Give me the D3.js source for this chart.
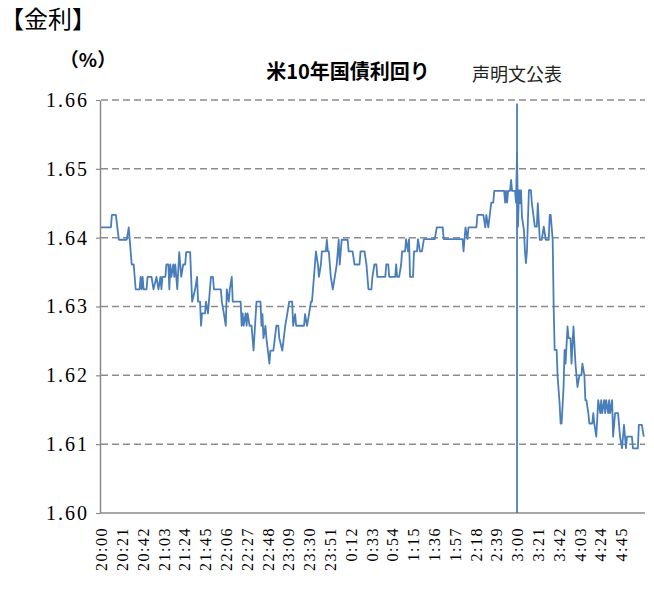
<!DOCTYPE html>
<html>
<head>
<meta charset="utf-8">
<script src="https://cdn.jsdelivr.net/npm/d3@7"></script>
<style>
  body { margin: 0; background: #fff; }
  svg { display: block; }
</style>
</head>
<body>
<div id="chart"></div>
<script>
// minutes after 20:00 (one reading per change of level)
const minutes = [0, 10, 11, 15, 18, 26, 28, 31, 33, 35, 39, 40, 41, 42, 43, 46, 47, 51, 53, 56, 58, 60, 61, 62, 65, 66, 68, 69, 70, 71, 73, 74, 75, 77, 79, 81, 83, 85, 86, 90,
  92, 95, 97, 98, 100, 101, 102, 105, 106, 108, 111, 113, 114, 121, 122, 124, 126, 127, 129, 130, 132, 133, 136, 141, 142, 143, 144, 146, 147, 148,
  150, 152, 154, 157, 161, 162, 163, 164, 166, 167, 170, 171, 174, 177, 179, 180, 183, 186, 188, 190, 193, 194, 196, 197, 205, 206, 208, 210, 212, 213,
  215, 217, 219, 220, 222, 223, 227, 228, 229, 230, 232, 234, 236, 238, 240, 241, 243, 249, 250, 254, 256, 261, 262, 266, 268, 270, 273, 274, 276, 278,
  279, 287, 288, 290, 291, 297, 298, 299, 301, 303, 304, 307, 308, 310, 311, 312, 315, 316, 319, 320, 322, 324, 326, 337, 339, 345, 346, 365, 366, 367,
  368, 370, 371, 379, 380, 386, 388, 389, 391, 394, 396, 397, 407, 408, 409, 410, 411, 413, 414, 415, 418, 419, 420, 421, 422, 423, 424, 425, 427, 428,
  429, 430, 432, 434, 435, 438, 440, 441, 443, 445, 447, 449, 452, 453, 454, 456, 457, 458, 460, 461, 463, 464, 465, 467, 468, 469, 471, 472, 474, 475,
  477, 479, 481, 483, 485, 486, 488, 489, 490, 492, 493, 496, 497, 498, 500, 502, 504, 505, 506, 508, 509, 510, 512, 513, 514, 516, 517, 519, 522, 524,
  526, 528, 530, 531, 536, 537, 542, 543, 546, 548]

// US 10y yield (%)
const yields = [1.6415, 1.6415, 1.6433, 1.6433, 1.6397, 1.6397, 1.6415, 1.6361, 1.6361, 1.6325, 1.6325, 1.6343, 1.6325, 1.6343, 1.6325, 1.6325, 1.6343, 1.6343, 1.6325, 1.6343, 1.6325, 1.6343, 1.6325, 1.6343, 1.6343, 1.6361, 1.6361, 1.6325, 1.6361, 1.6343, 1.6361, 1.6343, 1.6361, 1.6325, 1.6379, 1.6343, 1.6361, 1.6361, 1.6379, 1.6379,
  1.6307, 1.6325, 1.6343, 1.6307, 1.6307, 1.6272, 1.629, 1.629, 1.6307, 1.629, 1.6343, 1.6343, 1.6325, 1.6325, 1.6307, 1.629, 1.6272, 1.6325, 1.6307, 1.6325, 1.6343, 1.6307, 1.6307, 1.6307, 1.6272, 1.629, 1.6272, 1.629, 1.6272, 1.629,
  1.6272, 1.6272, 1.6236, 1.6307, 1.6307, 1.6272, 1.6289, 1.6254, 1.6272, 1.6254, 1.6217, 1.6236, 1.6236, 1.6272, 1.6272, 1.6254, 1.6236, 1.6272, 1.6289, 1.6307, 1.6307, 1.6272, 1.6289, 1.6272, 1.6272, 1.6289, 1.6272, 1.6289, 1.6307, 1.6307,
  1.6343, 1.638, 1.6361, 1.6343, 1.6361, 1.638, 1.638, 1.6397, 1.638, 1.638, 1.6343, 1.6325, 1.6343, 1.6361, 1.6397, 1.6361, 1.6397, 1.6397, 1.638, 1.638, 1.6361, 1.6361, 1.638, 1.638, 1.6361, 1.6325, 1.6325, 1.6343, 1.6361, 1.6361,
  1.6343, 1.6343, 1.6361, 1.6361, 1.6343, 1.6343, 1.6361, 1.6343, 1.6343, 1.6361, 1.638, 1.638, 1.6398, 1.638, 1.6398, 1.6343, 1.6343, 1.638, 1.638, 1.6398, 1.638, 1.638, 1.6398, 1.6398, 1.6415, 1.6415, 1.6398, 1.6398, 1.638, 1.6398,
  1.6415, 1.6398, 1.6415, 1.6415, 1.6433, 1.6433, 1.6415, 1.6433, 1.6415, 1.6451, 1.6451, 1.6468, 1.6468, 1.6451, 1.6468, 1.6451, 1.6468, 1.6468, 1.6484, 1.6468, 1.6468, 1.6451, 1.6523, 1.6416, 1.6469, 1.645, 1.6469, 1.643, 1.6411, 1.638,
  1.6363, 1.638, 1.6469, 1.6469, 1.645, 1.6416, 1.6416, 1.645, 1.6397, 1.6397, 1.6416, 1.6397, 1.6397, 1.6433, 1.6433, 1.6397, 1.63, 1.6237, 1.6237, 1.6198, 1.6159, 1.613, 1.613, 1.6183, 1.6237, 1.6217, 1.6271, 1.6254, 1.6254, 1.6217,
  1.6271, 1.6217, 1.6183, 1.62, 1.62, 1.6217, 1.62, 1.6164, 1.6164, 1.6145, 1.613, 1.613, 1.6145, 1.613, 1.6111, 1.6164, 1.6145, 1.6164, 1.6145, 1.6164, 1.6145, 1.6164, 1.6145, 1.6164, 1.6145, 1.6164, 1.6111, 1.6145, 1.6145, 1.6111,
  1.6094, 1.6128, 1.6094, 1.6111, 1.6111, 1.6094, 1.6094, 1.6128, 1.6128, 1.6111]

const xLabels = ['20:00', '20:21', '20:42', '21:03', '21:24', '21:45', '22:06', '22:27', '22:48', '23:09', '23:30', '23:51', '0:12',
  '0:33', '0:54', '1:15', '1:36', '1:57', '2:18', '2:39', '3:00', '3:21', '3:42', '4:03', '4:24', '4:45']
const labelStep = 21
const yTicks = [1.60, 1.61, 1.62, 1.63, 1.64, 1.65, 1.66]
const statementMinute = 420 // 3:00

const width = 654
const height = 594
const serif = "'Liberation Serif', 'Times New Roman', 'DejaVu Serif', serif"
const gothic = "'Noto Sans CJK JP', 'Noto Sans', sans-serif"

const svg = d3.select('#chart').append('svg')
  .attr('width', width)
  .attr('height', height)

const xScale = d3.scaleLinear().domain([0, 549]).range([101, 644.8])
const yScale = d3.scaleLinear().domain([1.60, 1.66]).range([513, 100])

// gridlines
svg.append('g').selectAll('line')
  .data(yTicks.filter(d => d > 1.60))
  .enter().append('line')
  .attr('x1', 101)
  .attr('x2', 645)
  .attr('y1', d => yScale(d))
  .attr('y2', d => yScale(d))
  .attr('stroke', '#8c8c8c')
  .attr('stroke-width', 1.5)
  .attr('stroke-dasharray', '7,4')

// y axis
const yAxis = svg.append('g')
  .attr('class', 'y axis')
  .attr('transform', 'translate(100,0)')
  .call(d3.axisLeft(yScale).tickValues(yTicks).tickFormat(d3.format('.2f')).tickSize(4).tickSizeOuter(0).tickPadding(7))
yAxis.attr('font-family', null).attr('font-size', null)
yAxis.select('.domain').attr('stroke', '#8a8a8a').attr('stroke-width', 1.5)
yAxis.selectAll('.tick line').attr('stroke', '#8a8a8a').attr('stroke-width', 1.2)
yAxis.selectAll('.tick text')
  .style('font-family', serif)
  .style('font-size', '20px')
  .style('letter-spacing', '2px')
  .style('fill', '#000')

// x axis
const xAxis = svg.append('g')
  .attr('class', 'x axis')
  .attr('transform', 'translate(0,513)')
  .call(d3.axisBottom(xScale)
    .tickValues(xLabels.map((d, i) => i * labelStep))
    .tickFormat((d, i) => xLabels[i])
    .tickSize(0).tickSizeOuter(0))
xAxis.attr('font-family', null).attr('font-size', null)
xAxis.select('.domain').remove()
xAxis.append('line')
  .attr('x1', 100).attr('x2', 645)
  .attr('stroke', '#8a8a8a').attr('stroke-width', 1.5)
xAxis.selectAll('.tick text')
  .attr('transform', 'rotate(-90)')
  .attr('text-anchor', 'end')
  .attr('x', -14)
  .attr('y', 0)
  .attr('dy', '0.35em')
  .style('font-family', serif)
  .style('font-size', '16px')
  .style('letter-spacing', '1.5px')
  .style('fill', '#000')

// statement marker
svg.append('line')
  .attr('x1', xScale(statementMinute))
  .attr('x2', xScale(statementMinute))
  .attr('y1', yScale(1.6595))
  .attr('y2', yScale(1.60))
  .attr('stroke', '#4a7ebb')
  .attr('stroke-width', 1.8)

// yield line
const series = minutes.map((m, i) => [m, yields[i]])
svg.append('path')
  .datum(series)
  .attr('fill', 'none')
  .attr('stroke', '#4a7ebb')
  .attr('stroke-width', 1.8)
  .attr('stroke-linejoin', 'round')
  .attr('d', d3.line().x(d => xScale(d[0])).y(d => yScale(d[1])))

// texts
svg.append('text')
  .attr('x', 0).attr('y', 28)
  .style('font-family', gothic)
  .style('font-size', '24px')
  .text('【金利】')

svg.append('text')
  .attr('x', 88).attr('y', 67)
  .attr('text-anchor', 'middle')
  .style('font-family', gothic)
  .style('font-size', '19px')
  .style('font-weight', 'bold')
  .text('（%）')

svg.append('text')
  .attr('x', 348).attr('y', 79)
  .attr('text-anchor', 'middle')
  .style('font-family', gothic)
  .style('font-size', '20px')
  .style('font-weight', 'bold')
  .text('米10年国債利回り')

svg.append('text')
  .attr('x', xScale(statementMinute)).attr('y', 81)
  .attr('text-anchor', 'middle')
  .style('font-family', gothic)
  .style('font-size', '18px')
  .style('fill', '#222')
  .text('声明文公表')
</script>
</body>
</html>
